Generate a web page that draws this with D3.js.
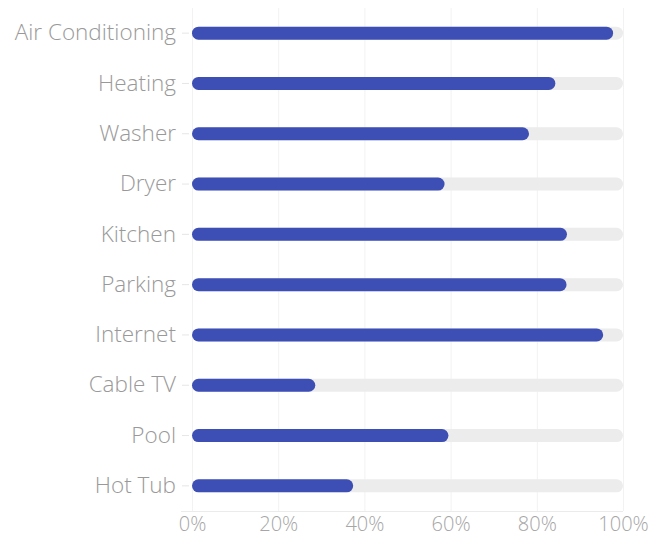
<!DOCTYPE html>
<html>
<head>
<meta charset="utf-8">
<script src="https://cdn.jsdelivr.net/npm/d3@7/dist/d3.min.js"></script>
<style>
  body { margin: 0; background: #fff; }
  svg text { font-family: 'Open Sans', sans-serif; font-weight: 300; }
</style>
</head>
<body>
<div id="chart"></div>
<script>
var categories = ['Air Conditioning', 'Heating', 'Washer', 'Dryer', 'Kitchen', 'Parking', 'Internet', 'Cable TV', 'Pool', 'Hot Tub'];
var values = [97.7, 84.3, 78.2, 58.6, 87.0, 86.9, 95.4, 28.6, 59.5, 37.4];
var tickValues = [0, 20, 40, 60, 80, 100];

var width = 667, height = 538;
var margin = {top: 8, right: 44, bottom: 27, left: 192};

var svg = d3.select('#chart').append('svg').attr('width', width).attr('height', height);

var x = d3.scaleLinear().domain([0, 100]).range([margin.left, width - margin.right]);
var y = d3.scaleBand().domain(categories).range([margin.top, height - margin.bottom]).paddingInner(0);

var barH = 13;

// vertical grid
svg.append('g').selectAll('line')
    .data(tickValues)
    .enter().append('line')
    .attr('x1', function(d){ return x(d) + 0.5; })
    .attr('x2', function(d){ return x(d) + 0.5; })
    .attr('y1', margin.top)
    .attr('y2', height - margin.bottom)
    .attr('stroke', '#f2f2f2');

// bottom axis
var xAxis = svg.append('g')
    .attr('transform', 'translate(0,' + (height - margin.bottom) + ')')
    .call(d3.axisBottom(x).tickValues(tickValues).tickSize(0).tickPadding(6).tickFormat(function(d){ return d + '%'; }));
xAxis.select('.domain').attr('d', 'M' + (margin.left - 11) + ',0.5H' + x(100)).attr('stroke', '#ebebeb');
xAxis.selectAll('text').attr('fill', '#a6a6a6').style('font-size', '20px');

// left axis
var yAxis = svg.append('g')
    .attr('transform', 'translate(' + (margin.left - 3) + ',0)')
    .call(d3.axisLeft(y).tickSize(7).tickPadding(6));
yAxis.select('.domain').remove();
yAxis.selectAll('line').attr('stroke', '#e6e6e6');
yAxis.selectAll('text').attr('fill', '#999').style('font-size', '22.5px');

// background tracks
svg.append('g').selectAll('rect')
    .data(categories)
    .enter().append('rect')
    .attr('x', x(0))
    .attr('y', function(d){ return y(d) + y.bandwidth() / 2 - barH / 2; })
    .attr('width', x(100) - x(0))
    .attr('height', barH)
    .attr('rx', barH / 2)
    .attr('fill', '#ececec');

// value bars
svg.append('g').selectAll('rect')
    .data(values)
    .enter().append('rect')
    .attr('x', x(0))
    .attr('y', function(d, i){ return y(categories[i]) + y.bandwidth() / 2 - barH / 2; })
    .attr('width', function(d){ return x(d) - x(0); })
    .attr('height', barH)
    .attr('rx', barH / 2)
    .attr('fill', '#3d4fb5');
</script>
</body>
</html>
